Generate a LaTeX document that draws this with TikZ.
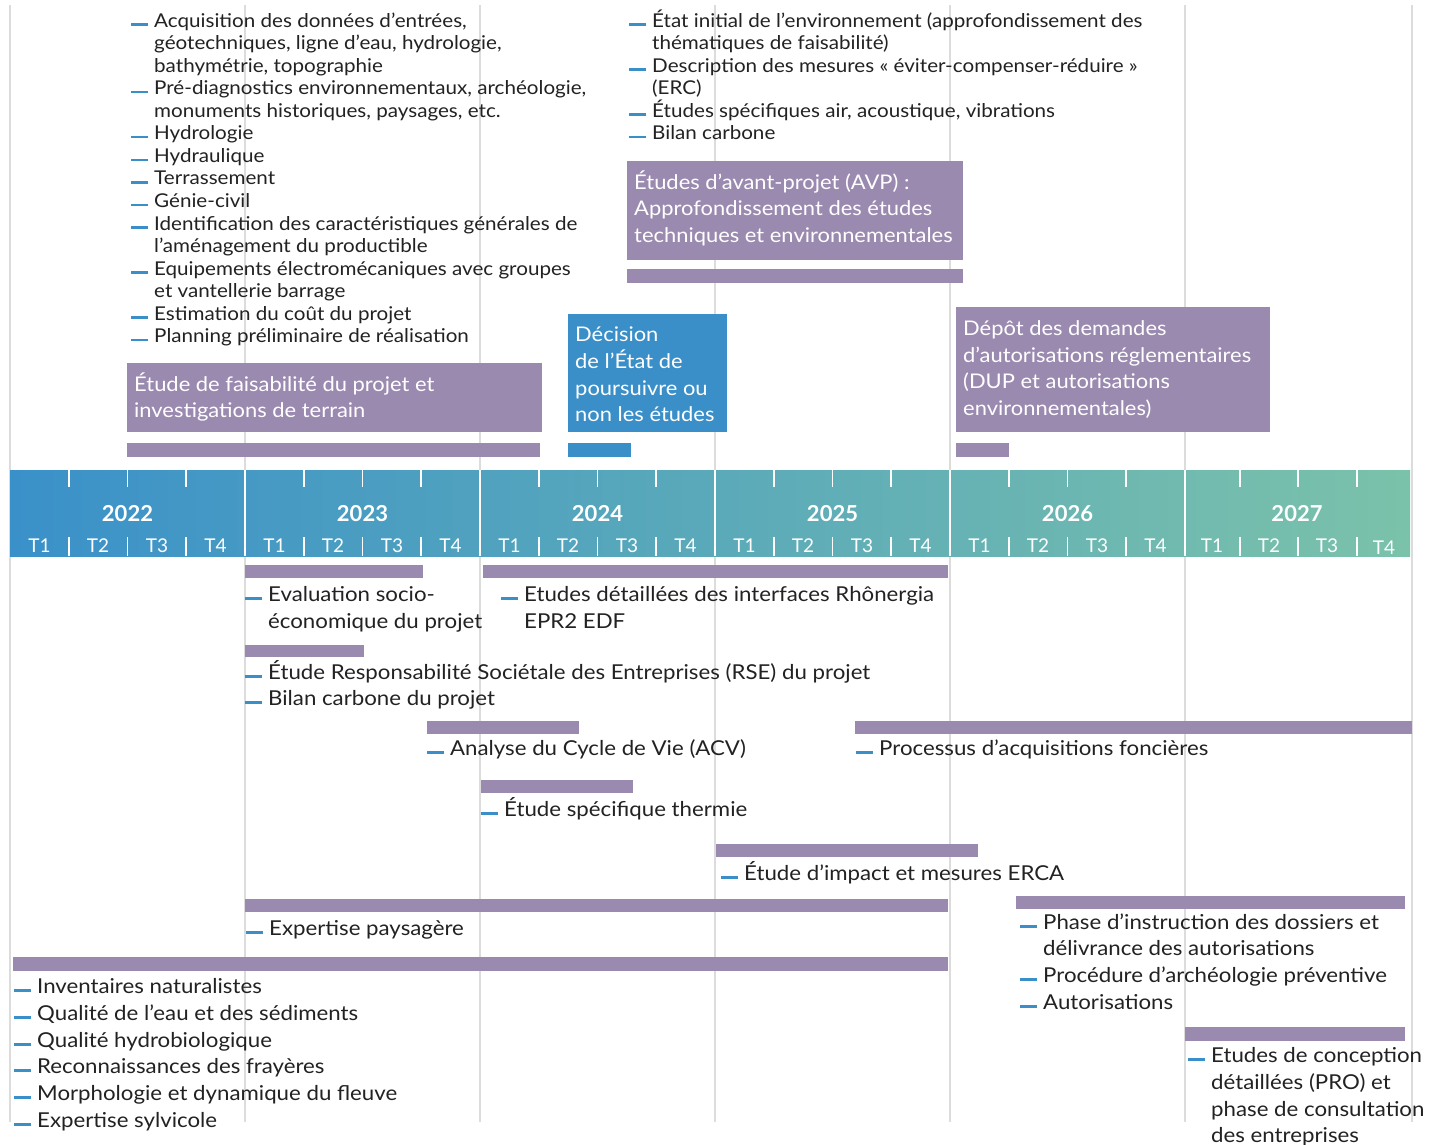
\documentclass[tikz,border=0pt]{standalone}
\usepackage{fontspec}
\setmainfont{Lato}
\newfontfamily\wide[FakeStretch=1.085]{Lato}
\definecolor{pur}{HTML}{9B8AB0}
\definecolor{blu}{HTML}{3B8FC8}
\definecolor{gl}{HTML}{DCDCDC}
\definecolor{txt}{HTML}{222222}
\definecolor{tlc}{HTML}{3A91C9}
\definecolor{trc}{HTML}{7BC2AA}
\newcommand\Litem[5]{\node[#1] (#2) at (#3,#4) {#5}; \draw[dashmk] ([xshift=-6pt,yshift=2.6pt]#2.base west) -- ++(-17,0);}
\newcommand\Ltxt[5]{\node[#1] (#2) at (#3,#4) {#5};}
\begin{document}
\begin{tikzpicture}[x=1pt,y=-1pt,
  itA/.style={anchor=base west, inner sep=0, text=txt, font=\wide\fontsize{19}{22}\selectfont},
  itB/.style={anchor=base west, inner sep=0, text=txt, font=\wide\fontsize{20.5}{24}\selectfont},
  boxt/.style={anchor=base west, inner sep=0, text=white, font=\wide\fontsize{20.2}{24}\selectfont},
  yr/.style={anchor=base, inner sep=0, text=white, font=\fontsize{22}{26}\selectfont\bfseries},
  qt/.style={anchor=base, inner sep=0, text=white, font=\fontsize{19}{22}\selectfont},
  dashmk/.style={draw=blu, line width=2.4pt},
  grid/.style={draw=gl, line width=2.4pt},
  wl/.style={draw=white, line width=1.8pt}]
\useasboundingbox (0,0) rectangle (1442,1144);
\fill[white] (0,0) rectangle (1442,1144);
% gray vertical lines
\foreach \x in {10,245,480,715,950,1185,1412} \draw[grid] (\x,5) -- (\x,1122);
% timeline
\shade[left color=tlc, right color=trc] (10,470) rectangle (1410,556);
\foreach \x in {245,480,715,950,1185} \draw[wl] (\x,470) -- (\x,556);
\foreach \s in {10,245,480,715,950} {
  \foreach \k in {1,2,3} {
    \draw[wl] (\s+58.75*\k,470) -- (\s+58.75*\k,487);
    \draw[wl] (\s+58.75*\k,537) -- (\s+58.75*\k,556);
  }
}
\foreach \x in {1240,1298,1357} {\draw[wl] (\x,470) -- (\x,487); \draw[wl] (\x,537) -- (\x,556);}
\foreach \s/\y/\n in {10/2022/a,245/2023/b,480/2024/c,715/2025/d,950/2026/e} {
  \node[yr] (y\n) at (\s+117.5,521) {\y};
  \node[qt] (q\n1) at (\s+29.4,552) {T1};
  \node[qt] (q\n2) at (\s+88.1,552) {T2};
  \node[qt] (q\n3) at (\s+146.9,552) {T3};
  \node[qt] (q\n4) at (\s+205.6,552) {T4};
}
\node[yr] (yf) at (1297,521) {2027};
\node[qt] (qf1) at (1212,552) {T1};
\node[qt] (qf2) at (1269,552) {T2};
\node[qt] (qf3) at (1327,552) {T3};
\node[qt] (qf4) at (1384,554) {T4};
% top left list
\Litem{itA}{a1}{154}{27}{Acquisition des données d’entrées,}
\Ltxt{itA}{a2}{154}{49.6}{géotechniques, ligne d’eau, hydrologie,}
\Ltxt{itA}{a3}{154}{72.1}{bathymétrie, topographie}
\Litem{itA}{a4}{154}{94.7}{Pré-diagnostics environnementaux, archéologie,}
\Ltxt{itA}{a5}{154}{117.2}{monuments historiques, paysages, etc.}
\Litem{itA}{a6}{154}{139.8}{Hydrologie}
\Litem{itA}{a7}{154}{162.3}{Hydraulique}
\Litem{itA}{a8}{154}{184.9}{Terrassement}
\Litem{itA}{a9}{154}{207.4}{Génie-civil}
\Litem{itA}{a10}{154}{230}{Identification des caractéristiques générales de}
\Ltxt{itA}{a11}{154}{252.5}{l’aménagement du productible}
\Litem{itA}{a12}{154}{275.1}{Equipements électromécaniques avec groupes}
\Ltxt{itA}{a13}{154}{297.6}{et vantellerie barrage}
\Litem{itA}{a14}{154}{320.2}{Estimation du coût du projet}
\Litem{itA}{a15}{154}{342.7}{Planning préliminaire de réalisation}
% top right list
\Litem{itA}{b1}{652}{27}{État initial de l’environnement (approfondissement des}
\Ltxt{itA}{b2}{652}{49.6}{thématiques de faisabilité)}
\Litem{itA}{b3}{652}{72.1}{Description des mesures «~éviter-compenser-réduire~»}
\Ltxt{itA}{b4}{652}{94.7}{(ERC)}
\Litem{itA}{b5}{652}{117.2}{Études spécifiques air, acoustique, vibrations}
\Litem{itA}{b6}{652}{139.8}{Bilan carbone}
% boxes
\fill[pur] (127,363) rectangle (542,432);
\Ltxt{boxt}{f1}{134}{391}{Étude de faisabilité du projet et}
\Ltxt{boxt}{f2}{134}{417}{investigations de terrain}
\fill[pur] (127,443) rectangle (540,457);
\fill[blu] (568,314) rectangle (727,432);
\Ltxt{boxt}{d1}{575}{341}{Décision}
\Ltxt{boxt}{d2}{575}{368}{de l’État de}
\Ltxt{boxt}{d3}{575}{395}{poursuivre ou}
\Ltxt{boxt}{d4}{575}{421}{non les études}
\fill[blu] (568,443) rectangle (631,457);
\fill[pur] (627,161) rectangle (963,260);
\Ltxt{boxt}{v1}{634}{189}{Études d’avant-projet (AVP) :}
\Ltxt{boxt}{v2}{634}{215.5}{Approfondissement des études}
\Ltxt{boxt}{v3}{634}{242}{techniques et environnementales}
\fill[pur] (627,269) rectangle (963,283);
\fill[pur] (956,307) rectangle (1270,432);
\Ltxt{boxt}{p1}{963}{335}{Dépôt des demandes}
\Ltxt{boxt}{p2}{963}{362}{d’autorisations réglementaires}
\Ltxt{boxt}{p3}{963}{388}{(DUP et autorisations}
\Ltxt{boxt}{p4}{963}{415}{environnementales)}
\fill[pur] (956,443) rectangle (1009,457);
% lower bars
\fill[pur] (245,565) rectangle (423,578);
\Litem{itB}{c1}{268}{601}{Evaluation socio-}
\Ltxt{itB}{c2}{268}{628}{économique du projet}
\fill[pur] (483,565) rectangle (948,578);
\Litem{itB}{e1}{524}{601}{Etudes détaillées des interfaces Rhônergia}
\Ltxt{itB}{e2}{524}{628}{EPR2 EDF}
\fill[pur] (245,645) rectangle (364,657);
\Litem{itB}{r1}{268}{679}{Étude Responsabilité Sociétale des Entreprises (RSE) du projet}
\Litem{itB}{r2}{268}{705}{Bilan carbone du projet}
\fill[pur] (427,721) rectangle (579,734);
\Litem{itB}{g1}{450}{755}{Analyse du Cycle de Vie (ACV)}
\fill[pur] (855,721) rectangle (1412,734);
\Litem{itB}{h1}{879}{755}{Processus d’acquisitions foncières}
\fill[pur] (481,780) rectangle (633,793);
\Litem{itB}{t1}{504}{816}{Étude spécifique thermie}
\fill[pur] (716,844) rectangle (978,857);
\Litem{itB}{i1}{744}{880}{Étude d’impact et mesures ERCA}
\fill[pur] (245,899) rectangle (948,912);
\Litem{itB}{x1}{269}{935}{Expertise paysagère}
\fill[pur] (1016,896) rectangle (1405,909);
\Litem{itB}{k1}{1043}{929}{Phase d’instruction des dossiers et}
\Ltxt{itB}{k2}{1043}{955}{délivrance des autorisations}
\Litem{itB}{k3}{1043}{982}{Procédure d’archéologie préventive}
\Litem{itB}{k4}{1043}{1009}{Autorisations}
\fill[pur] (13,957) rectangle (948,971);
\Litem{itB}{n1}{37}{993}{Inventaires naturalistes}
\Litem{itB}{n2}{37}{1020}{Qualité de l’eau et des sédiments}
\Litem{itB}{n3}{37}{1047}{Qualité hydrobiologique}
\Litem{itB}{n4}{37}{1073}{Reconnaissances des frayères}
\Litem{itB}{n5}{37}{1100}{Morphologie et dynamique du fleuve}
\Litem{itB}{n6}{37}{1127}{Expertise sylvicole}
\fill[pur] (1185,1027) rectangle (1405,1041);
\Litem{itB}{m1}{1211}{1062}{Etudes de conception}
\Ltxt{itB}{m2}{1211}{1089}{détaillées (PRO) et}
\Ltxt{itB}{m3}{1211}{1116}{phase de consultation}
\Ltxt{itB}{m4}{1211}{1142}{des entreprises}
\end{tikzpicture}
\end{document}
